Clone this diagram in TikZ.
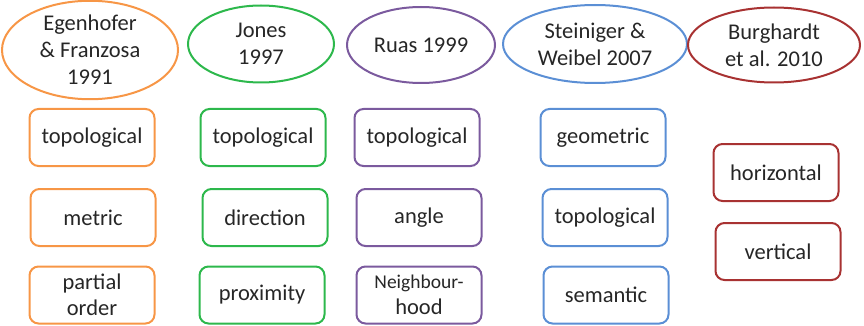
\documentclass[tikz,border=0pt]{standalone}
\usepackage{fontspec}
\setmainfont{Carlito}
\usetikzlibrary{shapes.geometric}
\definecolor{cOrange}{HTML}{F79646}
\definecolor{cGreen}{HTML}{2DB84C}
\definecolor{cPurple}{HTML}{7B5A9E}
\definecolor{cBlue}{HTML}{5B8FD5}
\definecolor{cRed}{HTML}{A83232}
\tikzset{
  src/.style={ellipse, draw=#1, line width=2pt, inner sep=0pt, align=center,
    text=black!85, font=\fontsize{22.5}{27}\selectfont},
  cat/.style={rectangle, rounded corners=9pt, draw=#1, line width=2pt, inner sep=0pt,
    minimum width=125pt, minimum height=57pt, align=center,
    text=black!85, font=\fontsize{22.5}{26}\selectfont}
}
\begin{document}
\begin{tikzpicture}[x=1pt,y=-1pt]
\useasboundingbox (0,0) rectangle (864,326);
% sources
\node[src=cOrange, minimum width=176pt, minimum height=90pt] (egen) at (90,50) {Egenhofer\\\& Franzosa\\1991};
\node[src=cGreen, minimum width=146pt, minimum height=77pt] (jones) at (261,44) {Jones\\1997};
\node[src=cPurple, minimum width=148pt, minimum height=76pt] (ruas) at (421,45) {Ruas 1999};
\node[src=cBlue, minimum width=184pt, minimum height=78pt] (stein) at (595,44) {Steiniger \&\\Weibel 2007};
\node[src=cRed, minimum width=172pt, minimum height=75pt] (burg) at (774,45) {Burghardt\\et al. 2010};
% Egenhofer
\node[cat=cOrange] (e1) at (92,137.5) {topological};
\node[cat=cOrange] (e2) at (93,217.5) {metric};
\node[cat=cOrange] (e3) at (92,295) {partial\\order};
% Jones
\node[cat=cGreen] (j1) at (263,137.5) {topological};
\node[cat=cGreen] (j2) at (265,217.5) {direction};
\node[cat=cGreen] (j3) at (262,295) {proximity};
% Ruas
\node[cat=cPurple] (r1) at (417,137.5) {topological};
\node[cat=cPurple] (r2) at (419,217.5) {angle};
\node[cat=cPurple] (r3) at (419,295) {\fontsize{19.5}{24}\selectfont Neighbour-\\hood};
% Steiniger
\node[cat=cBlue] (s1) at (603,137.5) {geometric};
\node[cat=cBlue] (s2) at (605,217.5) {topological};
\node[cat=cBlue] (s3) at (606,295) {semantic};
% Burghardt
\node[cat=cRed] (b1) at (776,172.5) {horizontal};
\node[cat=cRed] (b2) at (778,251.5) {vertical};
\end{tikzpicture}
\end{document}
